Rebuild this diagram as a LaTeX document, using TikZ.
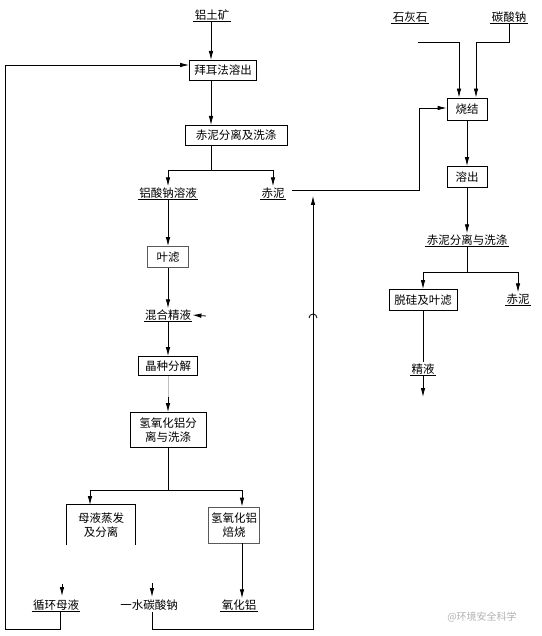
\documentclass[tikz,border=0pt]{standalone}
\usepackage{fontspec}
\setmainfont{Noto Sans CJK SC}
\usetikzlibrary{arrows.meta}
\begin{document}
\begin{tikzpicture}[x=1pt,y=-1pt, font=\fontsize{11.5}{13.5}\selectfont,
  ln/.style={line width=0.8pt},
  box/.style={draw, ln, inner sep=1pt, align=center},
  gbox/.style={box, draw=black!65},
  lab/.style={inner sep=1.2pt},
  ul/.style={lab, append after command={(\tikzlastnode.south west) edge[ln] (\tikzlastnode.south east)}},
  arr/.style={ln, -{Latex[length=9pt,width=4.5pt]}}]
\useasboundingbox[fill=white] (0,0) rectangle (541,636);

% ---------- left column ----------
\node[ul] (bx) at (212,15) {铝土矿};
\node[box, minimum width=67pt, minimum height=20pt] (bayer) at (223,70) {拜耳法溶出};
\node[box, minimum width=102pt, minimum height=20pt] (cn1) at (236,135) {赤泥分离及洗涤};
\coordinate (j1) at (211,170);
\coordinate (j1l) at (168,170);
\coordinate (j1r) at (273,170);
\node[ul] (nal) at (168,193) {铝酸钠溶液};
\node[ul] (cn2) at (273,193) {赤泥};
\node[gbox, minimum width=41pt, minimum height=21pt] (yl) at (168,257) {叶滤};
\node[ul] (hh) at (168,315) {混合精液};
\node[box, minimum width=59pt, minimum height=19pt] (jz) at (168,366) {晶种分解};
\node[box, minimum width=76pt, minimum height=35pt] (qy) at (168,430) {氢氧化铝分\\离与洗涤};
\coordinate (j2) at (168,490);
\coordinate (j2l) at (90,490);
\coordinate (j2r) at (242,490);
\node[align=center, inner sep=0pt, minimum width=68pt, minimum height=40pt] (my) at (101,525) {母液蒸发\\及分离};
\node[gbox, minimum width=51pt, minimum height=36pt] (bs) at (234,525) {氢氧化铝\\焙烧};
\node[ul] (xh) at (56,605) {循环母液};
\node[lab] (ys) at (149,605) {一水碳酸钠};
\node[ul] (yhl) at (239,605) {氧化铝};

% ---------- right column ----------
\node[ul] (shs) at (410,17) {石灰石};
\node[ul] (tsn) at (509,17) {碳酸钠};
\node[box, minimum width=40pt, minimum height=22pt] (sj) at (467,109) {烧结};
\node[box, minimum width=40pt, minimum height=21pt] (rc) at (467,177) {溶出};
\node[ul] (cn3) at (467,240) {赤泥分离与洗涤};
\coordinate (j3) at (467,272);
\coordinate (j3l) at (423,272);
\coordinate (j3r) at (518,272);
\node[box, minimum width=68pt, minimum height=21pt] (tg) at (423,300) {脱硅及叶滤};
\node[ul] (cn4) at (518,299) {赤泥};
\node[ul] (jy) at (423,369) {精液};

% ---------- connectors, left ----------
\draw[arr] (bx.south -| 211,0) -- (211,60);
\draw[arr] (211,80) -- (211,125);
\draw[ln] (211,145) -- (j1);
\draw[ln] (j1l) -- (j1r);
\draw[arr] (j1l) -- (nal.north);
\draw[arr] (j1r) -- (cn2.north);
\draw[arr] (nal.south) -- (yl.north);
\draw[arr] (yl.south) -- (hh.north);
\draw[arr] (206,316) -- (hh.east);
\draw[arr] (hh.south) -- (jz.north);
\draw[ln, black!25] (jz.south) -- (168,400);
\draw[arr] (168,397) -- (qy.north);
\draw[ln] (qy.south) -- (j2);
\draw[ln] (j2l) -- (j2r);
\draw[arr] (j2l) -- (90,505);
\draw[arr] (j2r) -- (bs.north -| j2r);
\draw[ln] (my.south west) -- (my.north west) -- (my.north east) -- (my.south east);
\draw[arr] (bs.south -| j2r) -- (yhl.north -| j2r);
\draw[arr] (62,584) -- (62,596);
\draw[arr] (152,583) -- (152,597);
% recycle loops
\draw[arr] (xh.south -| 60,0) -- (60,629) -- (5,629) -- (5,65) -- (bayer.west |- 0,65);
\draw[arr] (ys.south -| 152,0) -- (152,629) -- (313,629) -- (313,196);
\draw[ln] (309,318) arc[start angle=180, end angle=0, radius=4pt];
\draw[arr] (cn2.east) ++(6,-3) coordinate (c0) -- (419,190) -- (419,108) -- (sj.west |- 0,108);

% ---------- connectors, right ----------
\draw[arr] (418,42) -- (459,42) -- (sj.north -| 459,0);
\draw[arr] (tsn.south) -- (509,42) -- (476,42) -- (sj.north -| 476,0);
\draw[arr] (sj.south) -- (rc.north);
\draw[arr] (rc.south) -- (cn3.north);
\draw[ln] (cn3.south) -- (j3);
\draw[ln] (j3l) -- (j3r);
\draw[arr] (j3l) -- (tg.north);
\draw[arr] (j3r) -- (cn4.north);
\draw[ln] (tg.south) -- (jy.north);
\draw[arr] (jy.south) -- (423,397);

% watermark
\node[text=black!30, font=\fontsize{10}{12}\selectfont] (wm) at (482,617) {@环境安全科学};
\end{tikzpicture}
\end{document}
